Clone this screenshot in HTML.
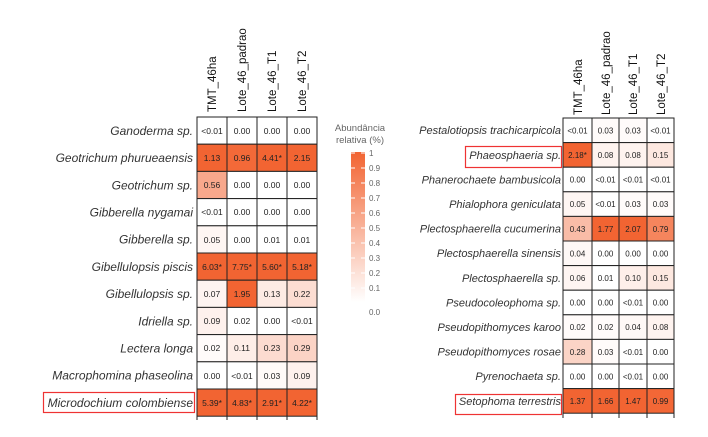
<!DOCTYPE html>
<html><head><meta charset="utf-8"><style>
body{margin:0;background:#fff;}
svg{display:block;font-family:"Liberation Sans",sans-serif;}
.l{font-style:italic;font-size:12px;fill:#333;text-anchor:end;}
.r{font-style:italic;font-size:11px;fill:#333;text-anchor:end;}
.v{font-size:8.5px;fill:#222;text-anchor:middle;}
.v2{font-size:8px;fill:#222;text-anchor:middle;}
.h{font-size:11.5px;fill:#111;}
.t{font-size:8px;fill:#666;}
</style></head><body>
<svg width="708" height="437" viewBox="0 0 708 437">
<defs><linearGradient id="g" x1="0" y1="1" x2="0" y2="0"><stop offset="0" stop-color="#fff"/><stop offset="1" stop-color="#f26432"/></linearGradient></defs>
<g class="h">
<text transform="translate(216,112) rotate(-90)">TMT_46ha</text>
<text transform="translate(246,112) rotate(-90)">Lote_46_padrao</text>
<text transform="translate(276,112) rotate(-90)">Lote_46_T1</text>
<text transform="translate(306,112) rotate(-90)">Lote_46_T2</text>
</g>
<g stroke="#222" stroke-width="1">
<rect x="197" y="117" width="30" height="27.2" fill="#fff"/><rect x="227" y="117" width="30" height="27.2" fill="#fff"/><rect x="257" y="117" width="30" height="27.2" fill="#fff"/><rect x="287" y="117" width="30" height="27.2" fill="#fff"/>
<rect x="197" y="144.2" width="30" height="27.2" fill="#f26432"/><rect x="227" y="144.2" width="30" height="27.2" fill="#f36938"/><rect x="257" y="144.2" width="30" height="27.2" fill="#f26432"/><rect x="287" y="144.2" width="30" height="27.2" fill="#f26432"/>
<rect x="197" y="171.4" width="30" height="27.2" fill="#f8a88c"/><rect x="227" y="171.4" width="30" height="27.2" fill="#fff"/><rect x="257" y="171.4" width="30" height="27.2" fill="#fff"/><rect x="287" y="171.4" width="30" height="27.2" fill="#fff"/>
<rect x="197" y="198.6" width="30" height="27.2" fill="#fff"/><rect x="227" y="198.6" width="30" height="27.2" fill="#fff"/><rect x="257" y="198.6" width="30" height="27.2" fill="#fff"/><rect x="287" y="198.6" width="30" height="27.2" fill="#fff"/>
<rect x="197" y="225.8" width="30" height="27.2" fill="#fef6f3"/><rect x="227" y="225.8" width="30" height="27.2" fill="#fff"/><rect x="257" y="225.8" width="30" height="27.2" fill="#fff"/><rect x="287" y="225.8" width="30" height="27.2" fill="#fff"/>
<rect x="197" y="253" width="30" height="27.2" fill="#f26432"/><rect x="227" y="253" width="30" height="27.2" fill="#f26432"/><rect x="257" y="253" width="30" height="27.2" fill="#f26432"/><rect x="287" y="253" width="30" height="27.2" fill="#f26432"/>
<rect x="197" y="280.2" width="30" height="27.2" fill="#fef4f1"/><rect x="227" y="280.2" width="30" height="27.2" fill="#f26432"/><rect x="257" y="280.2" width="30" height="27.2" fill="#fdebe4"/><rect x="287" y="280.2" width="30" height="27.2" fill="#fcddd2"/>
<rect x="197" y="307.4" width="30" height="27.2" fill="#fef1ed"/><rect x="227" y="307.4" width="30" height="27.2" fill="#fff"/><rect x="257" y="307.4" width="30" height="27.2" fill="#fff"/><rect x="287" y="307.4" width="30" height="27.2" fill="#fff"/>
<rect x="197" y="334.6" width="30" height="27.2" fill="#fffbfa"/><rect x="227" y="334.6" width="30" height="27.2" fill="#feeee8"/><rect x="257" y="334.6" width="30" height="27.2" fill="#fcdbd0"/><rect x="287" y="334.6" width="30" height="27.2" fill="#fbd3c5"/>
<rect x="197" y="361.8" width="30" height="27.2" fill="#fff"/><rect x="227" y="361.8" width="30" height="27.2" fill="#fff"/><rect x="257" y="361.8" width="30" height="27.2" fill="#fffaf8"/><rect x="287" y="361.8" width="30" height="27.2" fill="#fef1ed"/>
<rect x="197" y="389" width="30" height="27.2" fill="#f26432"/><rect x="227" y="389" width="30" height="27.2" fill="#f26432"/><rect x="257" y="389" width="30" height="27.2" fill="#f26432"/><rect x="287" y="389" width="30" height="27.2" fill="#f26432"/>
<line x1="197" y1="416" x2="197" y2="420"/><line x1="227" y1="416" x2="227" y2="420"/><line x1="257" y1="416" x2="257" y2="420"/><line x1="287" y1="416" x2="287" y2="420"/><line x1="317" y1="416" x2="317" y2="420"/>
</g>
<g class="v">
<text x="212" y="134">&lt;0.01</text><text x="242" y="134">0.00</text><text x="272" y="134">0.00</text><text x="302" y="134">0.00</text>
<text x="212" y="161">1.13</text><text x="242" y="161">0.96</text><text x="272" y="161">4.41*</text><text x="302" y="161">2.15</text>
<text x="212" y="188">0.56</text><text x="242" y="188">0.00</text><text x="272" y="188">0.00</text><text x="302" y="188">0.00</text>
<text x="212" y="215">&lt;0.01</text><text x="242" y="215">0.00</text><text x="272" y="215">0.00</text><text x="302" y="215">0.00</text>
<text x="212" y="243">0.05</text><text x="242" y="243">0.00</text><text x="272" y="243">0.01</text><text x="302" y="243">0.01</text>
<text x="212" y="270">6.03*</text><text x="242" y="270">7.75*</text><text x="272" y="270">5.60*</text><text x="302" y="270">5.18*</text>
<text x="212" y="297">0.07</text><text x="242" y="297">1.95</text><text x="272" y="297">0.13</text><text x="302" y="297">0.22</text>
<text x="212" y="324">0.09</text><text x="242" y="324">0.02</text><text x="272" y="324">0.00</text><text x="302" y="324">&lt;0.01</text>
<text x="212" y="351">0.02</text><text x="242" y="351">0.11</text><text x="272" y="351">0.23</text><text x="302" y="351">0.29</text>
<text x="212" y="379">0.00</text><text x="242" y="379">&lt;0.01</text><text x="272" y="379">0.03</text><text x="302" y="379">0.09</text>
<text x="212" y="406">5.39*</text><text x="242" y="406">4.83*</text><text x="272" y="406">2.91*</text><text x="302" y="406">4.22*</text>
</g>
<g class="l">
<text x="193" y="135">Ganoderma sp.</text>
<text x="193" y="162">Geotrichum phurueaensis</text>
<text x="193" y="189.5">Geotrichum sp.</text>
<text x="193" y="216.5">Gibberella nygamai</text>
<text x="193" y="243.5">Gibberella sp.</text>
<text x="193" y="271">Gibellulopsis piscis</text>
<text x="193" y="298">Gibellulopsis sp.</text>
<text x="193" y="325.5">Idriella sp.</text>
<text x="193" y="352.5">Lectera longa</text>
<text x="193" y="379.5">Macrophomina phaseolina</text>
<text x="193" y="407">Microdochium colombiense</text>
</g>
<rect x="43.5" y="392.5" width="151" height="20" fill="none" stroke="#e33" stroke-width="1.2"/>
<text x="360" y="131" class="t" text-anchor="middle" style="font-size:9.5px">Abundância</text>
<text x="360" y="143" class="t" text-anchor="middle" style="font-size:9.5px">relativa (%)</text>
<rect x="351" y="152" width="14" height="150" fill="url(#g)"/>
<g stroke="#fff" stroke-width="1">
<line x1="351" y1="153" x2="355" y2="153"/><line x1="361" y1="153" x2="365" y2="153"/>
<line x1="351" y1="168" x2="355" y2="168"/><line x1="361" y1="168" x2="365" y2="168"/>
<line x1="351" y1="183" x2="355" y2="183"/><line x1="361" y1="183" x2="365" y2="183"/>
<line x1="351" y1="198" x2="355" y2="198"/><line x1="361" y1="198" x2="365" y2="198"/>
<line x1="351" y1="213" x2="355" y2="213"/><line x1="361" y1="213" x2="365" y2="213"/>
<line x1="351" y1="228" x2="355" y2="228"/><line x1="361" y1="228" x2="365" y2="228"/>
<line x1="351" y1="243" x2="355" y2="243"/><line x1="361" y1="243" x2="365" y2="243"/>
<line x1="351" y1="258" x2="355" y2="258"/><line x1="361" y1="258" x2="365" y2="258"/>
<line x1="351" y1="273" x2="355" y2="273"/><line x1="361" y1="273" x2="365" y2="273"/>
<line x1="351" y1="288" x2="355" y2="288"/><line x1="361" y1="288" x2="365" y2="288"/>
</g>
<g class="t">
<text x="369" y="156">1</text><text x="369" y="171">0.9</text><text x="369" y="186">0.8</text><text x="369" y="201">0.7</text><text x="369" y="216">0.6</text><text x="369" y="231">0.5</text><text x="369" y="246">0.4</text><text x="369" y="261">0.3</text><text x="369" y="276">0.2</text><text x="369" y="291">0.1</text><text x="369" y="315">0.0</text>
</g>
<g class="h">
<text transform="translate(582,115) rotate(-90)">TMT_46ha</text>
<text transform="translate(610,115) rotate(-90)">Lote_46_padrao</text>
<text transform="translate(637,115) rotate(-90)">Lote_46_T1</text>
<text transform="translate(665,115) rotate(-90)">Lote_46_T2</text>
</g>
<g stroke="#222" stroke-width="1">
<rect x="563" y="118" width="29" height="24.6" fill="#fff"/><rect x="592" y="118" width="27" height="24.6" fill="#fffbfa"/><rect x="619" y="118" width="28" height="24.6" fill="#fffbfa"/><rect x="647" y="118" width="27" height="24.6" fill="#fff"/>
<rect x="563" y="142.6" width="29" height="24.6" fill="#f26432"/><rect x="592" y="142.6" width="27" height="24.6" fill="#fef3ef"/><rect x="619" y="142.6" width="28" height="24.6" fill="#fef3ef"/><rect x="647" y="142.6" width="27" height="24.6" fill="#fde8e0"/>
<rect x="563" y="167.2" width="29" height="24.6" fill="#fff"/><rect x="592" y="167.2" width="27" height="24.6" fill="#fff"/><rect x="619" y="167.2" width="28" height="24.6" fill="#fff"/><rect x="647" y="167.2" width="27" height="24.6" fill="#fff"/>
<rect x="563" y="191.8" width="29" height="24.6" fill="#fef6f3"/><rect x="592" y="191.8" width="27" height="24.6" fill="#fff"/><rect x="619" y="191.8" width="28" height="24.6" fill="#fffbfa"/><rect x="647" y="191.8" width="27" height="24.6" fill="#fffbfa"/>
<rect x="563" y="216.4" width="29" height="24.6" fill="#f9bca7"/><rect x="592" y="216.4" width="27" height="24.6" fill="#f26432"/><rect x="619" y="216.4" width="28" height="24.6" fill="#f26432"/><rect x="647" y="216.4" width="27" height="24.6" fill="#f5855d"/>
<rect x="563" y="241" width="29" height="24.6" fill="#fef8f6"/><rect x="592" y="241" width="27" height="24.6" fill="#fff"/><rect x="619" y="241" width="28" height="24.6" fill="#fff"/><rect x="647" y="241" width="27" height="24.6" fill="#fff"/>
<rect x="563" y="265.6" width="29" height="24.6" fill="#fef5f2"/><rect x="592" y="265.6" width="27" height="24.6" fill="#fff"/><rect x="619" y="265.6" width="28" height="24.6" fill="#feefea"/><rect x="647" y="265.6" width="27" height="24.6" fill="#fde8e0"/>
<rect x="563" y="290.2" width="29" height="24.6" fill="#fff"/><rect x="592" y="290.2" width="27" height="24.6" fill="#fff"/><rect x="619" y="290.2" width="28" height="24.6" fill="#fff"/><rect x="647" y="290.2" width="27" height="24.6" fill="#fff"/>
<rect x="563" y="314.8" width="29" height="24.6" fill="#fffbfa"/><rect x="592" y="314.8" width="27" height="24.6" fill="#fffbfa"/><rect x="619" y="314.8" width="28" height="24.6" fill="#fef8f6"/><rect x="647" y="314.8" width="27" height="24.6" fill="#fef3ef"/>
<rect x="563" y="339.4" width="29" height="24.6" fill="#fbd4c6"/><rect x="592" y="339.4" width="27" height="24.6" fill="#fffbfa"/><rect x="619" y="339.4" width="28" height="24.6" fill="#fff"/><rect x="647" y="339.4" width="27" height="24.6" fill="#fff"/>
<rect x="563" y="364" width="29" height="24.6" fill="#fff"/><rect x="592" y="364" width="27" height="24.6" fill="#fff"/><rect x="619" y="364" width="28" height="24.6" fill="#fff"/><rect x="647" y="364" width="27" height="24.6" fill="#fff"/>
<rect x="563" y="388.6" width="29" height="24.6" fill="#f26432"/><rect x="592" y="388.6" width="27" height="24.6" fill="#f26432"/><rect x="619" y="388.6" width="28" height="24.6" fill="#f26432"/><rect x="647" y="388.6" width="27" height="24.6" fill="#f36736"/>
<line x1="563" y1="413" x2="563" y2="418"/><line x1="592" y1="413" x2="592" y2="418"/><line x1="619" y1="413" x2="619" y2="418"/><line x1="647" y1="413" x2="647" y2="418"/><line x1="674" y1="413" x2="674" y2="418"/>
</g>
<g class="v2">
<text x="577.5" y="133.5">&lt;0.01</text><text x="605.5" y="133.5">0.03</text><text x="633" y="133.5">0.03</text><text x="660.5" y="133.5">&lt;0.01</text>
<text x="577.5" y="158">2.18*</text><text x="605.5" y="158">0.08</text><text x="633" y="158">0.08</text><text x="660.5" y="158">0.15</text>
<text x="577.5" y="182.5">0.00</text><text x="605.5" y="182.5">&lt;0.01</text><text x="633" y="182.5">&lt;0.01</text><text x="660.5" y="182.5">&lt;0.01</text>
<text x="577.5" y="207">0.05</text><text x="605.5" y="207">&lt;0.01</text><text x="633" y="207">0.03</text><text x="660.5" y="207">0.03</text>
<text x="577.5" y="232">0.43</text><text x="605.5" y="232">1.77</text><text x="633" y="232">2.07</text><text x="660.5" y="232">0.79</text>
<text x="577.5" y="256.5">0.04</text><text x="605.5" y="256.5">0.00</text><text x="633" y="256.5">0.00</text><text x="660.5" y="256.5">0.00</text>
<text x="577.5" y="281">0.06</text><text x="605.5" y="281">0.01</text><text x="633" y="281">0.10</text><text x="660.5" y="281">0.15</text>
<text x="577.5" y="305.5">0.00</text><text x="605.5" y="305.5">0.00</text><text x="633" y="305.5">&lt;0.01</text><text x="660.5" y="305.5">0.00</text>
<text x="577.5" y="330">0.02</text><text x="605.5" y="330">0.02</text><text x="633" y="330">0.04</text><text x="660.5" y="330">0.08</text>
<text x="577.5" y="355">0.28</text><text x="605.5" y="355">0.03</text><text x="633" y="355">&lt;0.01</text><text x="660.5" y="355">0.00</text>
<text x="577.5" y="379.5">0.00</text><text x="605.5" y="379.5">0.00</text><text x="633" y="379.5">&lt;0.01</text><text x="660.5" y="379.5">0.00</text>
<text x="577.5" y="404">1.37</text><text x="605.5" y="404">1.66</text><text x="633" y="404">1.47</text><text x="660.5" y="404">0.99</text>
</g>
<g class="r">
<text x="561" y="134">Pestalotiopsis trachicarpicola</text>
<text x="561" y="159">Phaeosphaeria sp.</text>
<text x="561" y="183.5">Phanerochaete bambusicola</text>
<text x="561" y="208">Phialophora geniculata</text>
<text x="561" y="232.5">Plectosphaerella cucumerina</text>
<text x="561" y="257">Plectosphaerella sinensis</text>
<text x="561" y="282">Plectosphaerella sp.</text>
<text x="561" y="306.5">Pseudocoleophoma sp.</text>
<text x="561" y="331">Pseudopithomyces karoo</text>
<text x="561" y="355.5">Pseudopithomyces rosae</text>
<text x="561" y="380">Pyrenochaeta sp.</text>
<text x="561" y="405">Setophoma terrestris</text>
</g>
<rect x="465.5" y="146.5" width="96" height="21" fill="none" stroke="#e33" stroke-width="1.2"/>
<rect x="455.5" y="394.5" width="106" height="20" fill="none" stroke="#e33" stroke-width="1.2"/>
</svg>
</body></html>
